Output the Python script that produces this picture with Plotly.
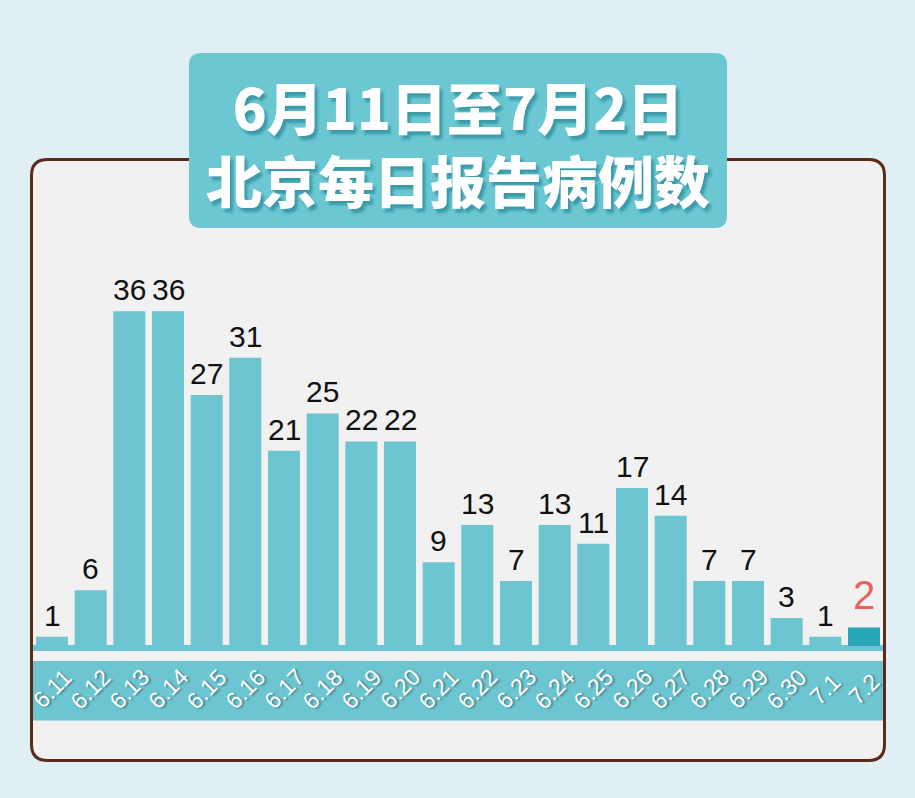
import plotly.graph_objects as go

W, H = 915, 798

dates = ["6.11", "6.12", "6.13", "6.14", "6.15", "6.16", "6.17", "6.18", "6.19", "6.20", "6.21",
         "6.22", "6.23", "6.24", "6.25", "6.26", "6.27", "6.28", "6.29", "6.30", "7.1", "7.2"]
cases = [1, 6, 36, 36, 27, 31, 21, 25, 22, 22, 9, 13, 7, 13, 11, 17, 14, 7, 7, 3, 1, 2]
title_line1 = "6月11日至7月2日"
title_line2 = "北京每日报告病例数"

BAR = "#6cc5d0"
BAR_LAST = "#2aa7b6"
BAND = "#6cc5d0"
TITLE_BOX = "#6bc8d3"


def px(x):
    return x / W


def py(y):
    return 1 - y / H


def rrect(x0, y0, x1, y1, r):
    def p(x, y):
        return f"{px(x)},{py(y)}"
    return (f"M {p(x0 + r, y0)} L {p(x1 - r, y0)} Q {p(x1, y0)} {p(x1, y0 + r)} "
            f"L {p(x1, y1 - r)} Q {p(x1, y1)} {p(x1 - r, y1)} L {p(x0 + r, y1)} "
            f"Q {p(x0, y1)} {p(x0, y1 - r)} L {p(x0, y0 + r)} Q {p(x0, y0)} {p(x0 + r, y0)} Z")


n = len(dates)
last = n - 1
bar_colors = [BAR_LAST if i == last else BAR for i in range(n)]

fig = go.Figure()
fig.add_trace(go.Bar(
    x=dates, y=cases, marker=dict(color=bar_colors, line=dict(width=0)),
    hoverinfo="skip",
))

# plot geometry
base_y = 646
unit = 9.3
ymax = 40
top_y = base_y - ymax * unit
x_left, x_right = 32.67, 883.33

fig.update_layout(
    width=W, height=H,
    margin=dict(l=0, r=0, t=0, b=0),
    paper_bgcolor="#e0eff3",
    plot_bgcolor="rgba(0,0,0,0)",
    bargap=0.172,
    showlegend=False,
    xaxis=dict(type="category", domain=[px(x_left), px(x_right)], range=[-0.5, n - 0.5],
               showgrid=False, zeroline=False, showticklabels=False, showline=False,
               fixedrange=True),
    yaxis=dict(domain=[py(base_y), py(top_y)], range=[0, ymax],
               showgrid=False, zeroline=False, showticklabels=False, showline=False,
               fixedrange=True),
)

shapes = [
    dict(type="path", xref="paper", yref="paper", layer="below",
         path=rrect(31.5, 159.5, 884.5, 760.5, 16),
         fillcolor="#f1f1f1", line=dict(color="#5b2a18", width=3)),
    dict(type="path", xref="paper", yref="paper", layer="below",
         path=rrect(189, 53, 727, 228, 12),
         fillcolor=TITLE_BOX, line=dict(width=0)),
    dict(type="rect", xref="paper", yref="paper", layer="below",
         x0=px(33), x1=px(883), y0=py(651), y1=py(645),
         fillcolor=BAND, line=dict(width=0)),
    dict(type="rect", xref="paper", yref="paper", layer="below",
         x0=px(33), x1=px(883), y0=py(720.5), y1=py(661),
         fillcolor=BAND, line=dict(width=0)),
]
fig.update_layout(shapes=shapes)

annotations = []
# title (two lines in one text block)
annotations.append(dict(
    text=title_line1 + "<br>" + title_line2, xref="paper", yref="paper",
    x=px(458), y=py(142), xanchor="center", yanchor="middle", showarrow=False,
    align="center",
    font=dict(family="Noto Sans CJK SC", size=56, color="white", weight=900,
              shadow="3px 4px 3px #3b9aa8"),
))

# value labels
for i, v in enumerate(cases):
    is_last = i == last
    annotations.append(dict(
        text=str(v), x=i, y=v, xref="x", yref="y",
        xanchor="center", yanchor="bottom", showarrow=False,
        yshift=8 if is_last else 3,
        font=dict(family="Liberation Sans, Arial, sans-serif",
                  size=40 if is_last else 30,
                  color="#e8615d" if is_last else "#111111"),
    ))

# date labels in the band
for i, d in enumerate(dates):
    annotations.append(dict(
        text=d, x=i, xref="x", y=py(689), yref="paper",
        xanchor="center", yanchor="middle", showarrow=False, textangle=-45,
        font=dict(family="Liberation Sans, Arial, sans-serif", size=23, color="white",
                  shadow="1px 2px 2px rgba(0,0,0,0.35)"),
    ))

fig.update_layout(annotations=annotations)

fig.write_html("out.html")
